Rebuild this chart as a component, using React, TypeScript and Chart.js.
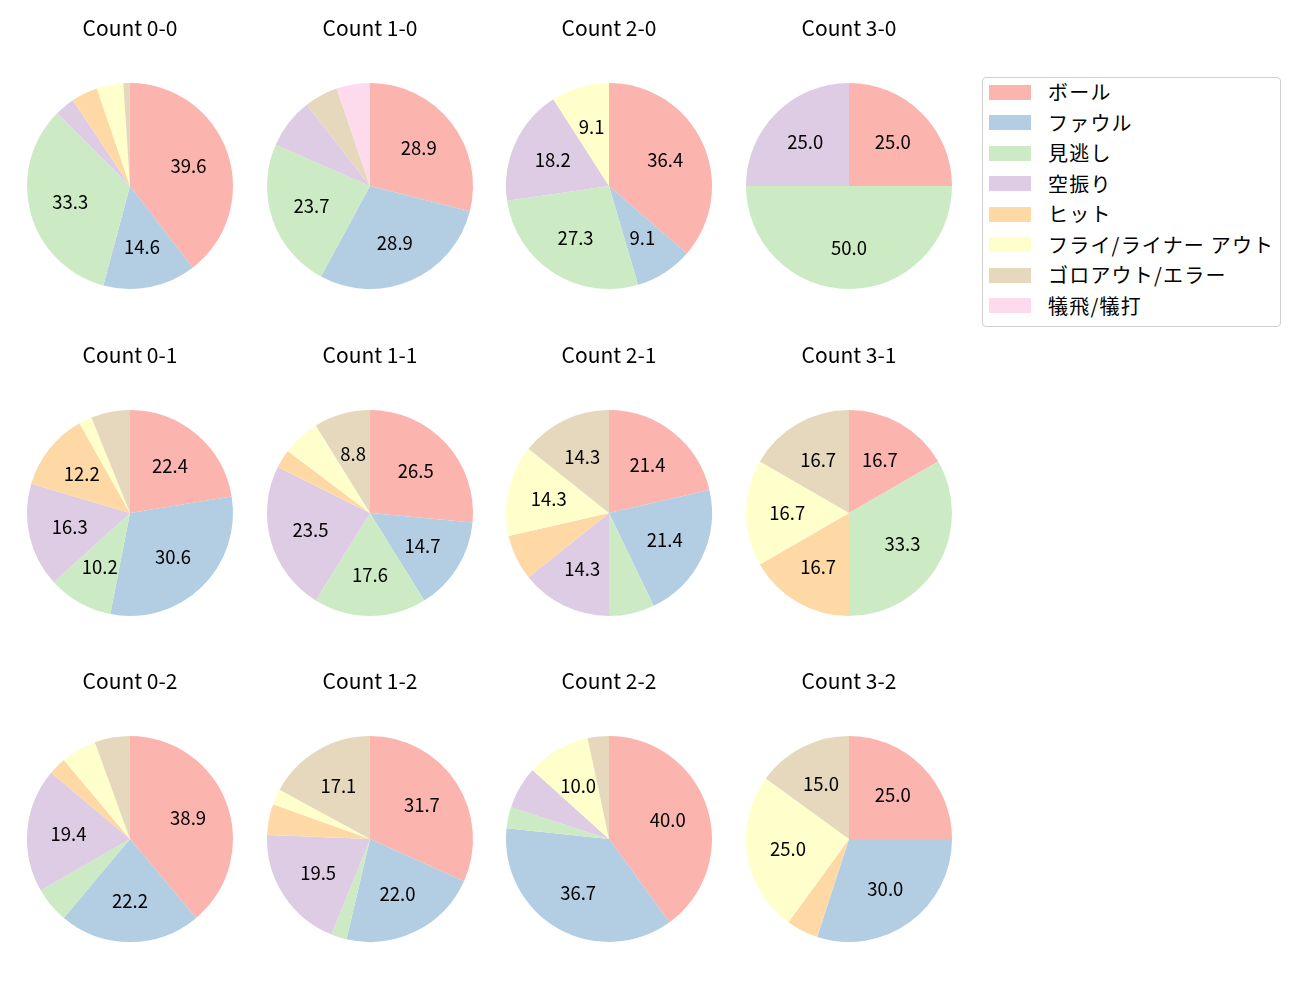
import React, { useEffect, useRef } from "react";
import { Chart, registerables } from "chart.js";

Chart.register(...registerables);

const categories = [
  "ボール",
  "ファウル",
  "見逃し",
  "空振り",
  "ヒット",
  "フライ/ライナー アウト",
  "ゴロアウト/エラー",
  "犠飛/犠打",
];

const colors = ["#fbb4ae", "#b3cde3", "#ccebc5", "#decbe4", "#fed9a6", "#ffffcc", "#e5d8bd", "#fddaec"];

const titles = [
  "Count 0-0", "Count 1-0", "Count 2-0", "Count 3-0",
  "Count 0-1", "Count 1-1", "Count 2-1", "Count 3-1",
  "Count 0-2", "Count 1-2", "Count 2-2", "Count 3-2",
];

const count00 = [38, 14, 32, 3, 4, 4, 1, 0];
const count10 = [11, 11, 9, 3, 0, 0, 2, 2];
const count20 = [4, 1, 3, 2, 0, 1, 0, 0];
const count30 = [1, 0, 2, 1, 0, 0, 0, 0];
const count01 = [11, 15, 5, 8, 6, 1, 3, 0];
const count11 = [9, 5, 6, 8, 1, 2, 3, 0];
const count21 = [3, 3, 1, 2, 1, 2, 2, 0];
const count31 = [1, 0, 2, 0, 1, 1, 1, 0];
const count02 = [14, 8, 2, 7, 1, 2, 2, 0];
const count12 = [13, 9, 1, 8, 2, 1, 7, 0];
const count22 = [12, 11, 1, 2, 0, 3, 1, 0];
const count32 = [5, 6, 0, 0, 1, 5, 3, 0];

const seriesList = [
  count00, count10, count20, count30,
  count01, count11, count21, count31,
  count02, count12, count22, count32,
];

const FONT = "'Noto Sans CJK JP', 'Noto Sans', sans-serif";
const colLefts = [10, 250, 489, 729];
const rowTops = [0, 327, 653];
const LABEL_MIN_PCT = 8;

const pctLabels = {
  id: "pctLabels",
  afterDatasetsDraw(chart: any) {
    const ctx = chart.ctx;
    const meta = chart.getDatasetMeta(0);
    const data: number[] = chart.data.datasets[0].data;
    const total = data.reduce((a: number, b: number) => a + b, 0);
    ctx.save();
    ctx.fillStyle = "#000";
    ctx.font = `18.5px ${FONT}`;
    ctx.textAlign = "center";
    ctx.textBaseline = "middle";
    meta.data.forEach((arc: any, i: number) => {
      const pct = (data[i] / total) * 100;
      if (pct < LABEL_MIN_PCT) return;
      const p = arc.getProps(["x", "y", "startAngle", "endAngle", "outerRadius"], true);
      const mid = (p.startAngle + p.endAngle) / 2;
      const r = p.outerRadius * 0.6;
      ctx.fillText(pct.toFixed(1), p.x + Math.cos(mid) * r, p.y + Math.sin(mid) * r);
    });
    ctx.restore();
  },
};

function PieCell({ title, values, left, top }: { title: string; values: number[]; left: number; top: number }) {
  const ref = useRef<HTMLCanvasElement | null>(null);
  useEffect(() => {
    if (!ref.current) return;
    const chart = new Chart(ref.current, {
      type: "pie",
      data: {
        labels: categories,
        datasets: [
          {
            data: values,
            backgroundColor: colors,
            borderWidth: 0,
          },
        ],
      },
      options: {
        responsive: false,
        animation: false,
        layout: { padding: { left: 17, right: 17, top: 0, bottom: 38 } },
        plugins: {
          legend: { display: false },
          tooltip: { enabled: false },
          title: {
            display: true,
            text: title,
            color: "#000",
            font: { family: FONT, size: 21, weight: "normal", lineHeight: 1.2 },
            padding: { top: 15, bottom: 42.8 },
          },
        },
      },
      plugins: [pctLabels],
    });
    return () => chart.destroy();
  }, [title, values]);
  return (
    <canvas
      ref={ref}
      width={240}
      height={327}
      style={{ position: "absolute", left, top, width: 240, height: 327 }}
    />
  );
}

export default function App() {
  return (
    <div style={{ position: "absolute", left: 0, top: 0, width: 1300, height: 1000, background: "#fff" }}>
      {seriesList.map((vals, i) => (
        <PieCell
          key={titles[i]}
          title={titles[i]}
          values={vals}
          left={colLefts[i % 4]}
          top={rowTops[Math.floor(i / 4)]}
        />
      ))}
      <div
        style={{
          position: "absolute",
          left: 982,
          top: 77,
          width: 297,
          height: 248,
          border: "1px solid #d0d0d0",
          borderRadius: 4,
          fontFamily: FONT,
          fontSize: 20,
          color: "#000",
        }}
      >
        {categories.map((c, i) => (
          <div
            key={c}
            style={{
              position: "absolute",
              left: 6,
              top: 6 + i * 30.5,
              height: 16,
              display: "flex",
              alignItems: "center",
              whiteSpace: "nowrap",
            }}
          >
            <span style={{ display: "inline-block", width: 42, height: 15, flex: "none", background: colors[i] }} />
            <span style={{ marginLeft: 17, lineHeight: "16px", letterSpacing: 1.2 }}>{c}</span>
          </div>
        ))}
      </div>
    </div>
  );
}
